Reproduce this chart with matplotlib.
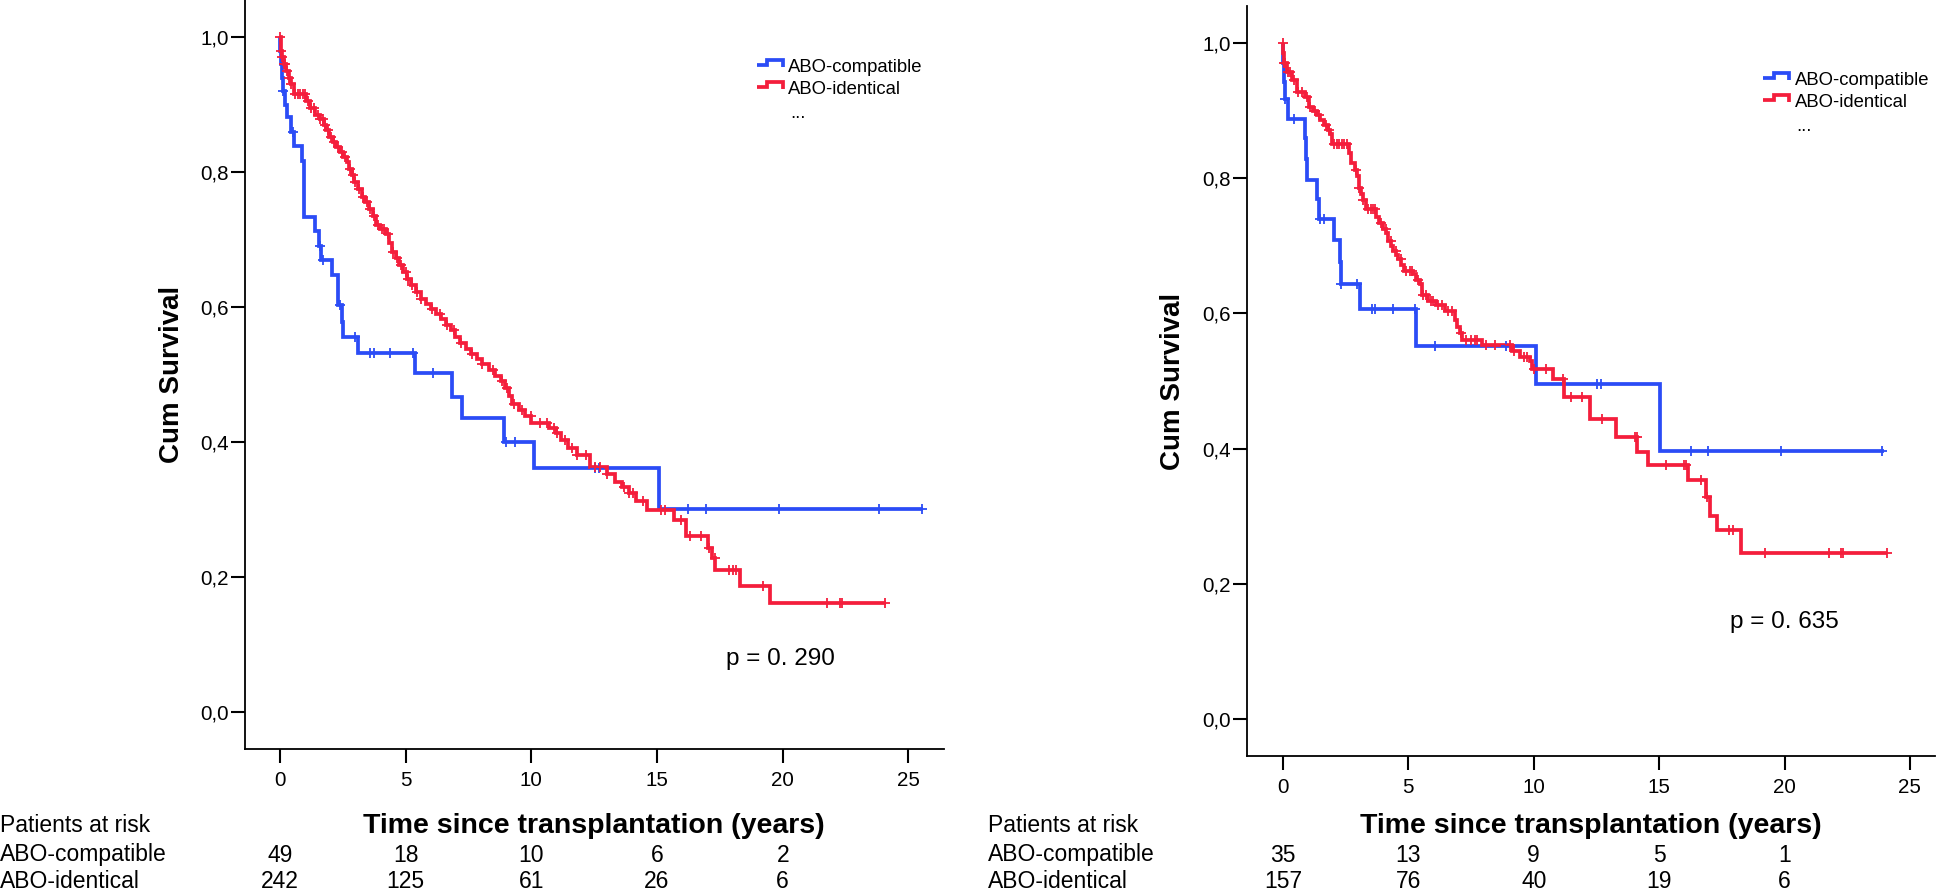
import numpy as np
import matplotlib
matplotlib.use('Agg')
import matplotlib.pyplot as plt
from matplotlib.lines import Line2D
from matplotlib.legend_handler import HandlerBase
from matplotlib.ticker import FuncFormatter
import matplotlib.transforms as mtransforms

plt.rcParams['font.family'] = ['Liberation Sans', 'DejaVu Sans']

COLOR_COMP = '#2B4CF6'
COLOR_IDENT = '#F41E3C'
group_labels = ['ABO-compatible', 'ABO-identical']

# ---------------- Left panel data ----------------
LC_t = [0, 0.02, 0.05, 0.08, 0.12, 0.20, 0.27, 0.45, 0.55, 0.86, 0.96, 1.39, 1.55, 1.65,
        2.06, 2.32, 2.46, 2.52, 3.12, 5.38, 6.84, 7.24, 8.90, 10.12, 15.06]
LC_s = [1.0, 0.98, 0.96, 0.94, 0.92, 0.90, 0.882, 0.860, 0.839, 0.816, 0.733, 0.713, 0.690, 0.670,
        0.647, 0.603, 0.578, 0.555, 0.532, 0.502, 0.467, 0.435, 0.400, 0.361, 0.300]
LC_cens = [0.13, 0.50, 1.60, 1.72, 2.39, 2.99, 3.59, 3.75, 4.38, 5.30, 6.09, 9.0, 9.36,
           12.53, 12.68, 16.24, 16.95, 19.86, 23.85, 25.56]
LC_end = 25.6

LI_t = [0, 0.03, 0.08, 0.15, 0.25, 0.35, 0.45, 0.55, 1.05, 1.2,
        1.4, 1.6, 1.75, 1.85, 1.97, 2.1, 2.23, 2.4, 2.5, 2.65,
        2.75, 2.85, 2.95, 3.1, 3.25, 3.4, 3.55, 3.7, 3.82, 4.0,
        4.2, 4.35, 4.45, 4.6, 4.75, 4.9, 5.05, 5.2, 5.4, 5.6,
        5.8, 6.0, 6.2, 6.4, 6.6, 6.8, 6.95, 7.15, 7.4, 7.6,
        7.85, 8.05, 8.3, 8.55, 8.8, 8.95, 9.1, 9.25, 9.5, 9.75,
        10.0, 10.7, 11.0, 11.2, 11.45, 11.8, 12.32, 13.03, 13.32, 13.6,
        13.89, 14.17, 14.6, 15.66, 16.16, 17.01, 17.18, 17.32, 18.3, 19.5]
LI_s = [1.0, 0.98, 0.97, 0.96, 0.95, 0.94, 0.93, 0.915, 0.905, 0.895,
        0.885, 0.878, 0.870, 0.862, 0.852, 0.845, 0.837, 0.830, 0.823, 0.815,
        0.805, 0.795, 0.785, 0.775, 0.763, 0.755, 0.746, 0.735, 0.722, 0.715,
        0.708, 0.695, 0.682, 0.672, 0.662, 0.652, 0.642, 0.632, 0.622, 0.612,
        0.604, 0.597, 0.590, 0.582, 0.574, 0.566, 0.556, 0.546, 0.538, 0.530,
        0.523, 0.515, 0.506, 0.498, 0.490, 0.480, 0.468, 0.457, 0.448, 0.438,
        0.428, 0.420, 0.413, 0.403, 0.391, 0.381, 0.363, 0.353, 0.341, 0.333,
        0.324, 0.312, 0.299, 0.284, 0.260, 0.243, 0.228, 0.211, 0.187, 0.161]
LI_cens = [0.0, 0.05, 0.1, 0.15, 0.2, 0.3, 0.35, 0.45, 0.6, 0.7, 0.8, 0.9, 1.0, 1.1, 1.25,
           1.35, 1.5, 1.6, 1.7, 1.8, 1.9, 2.05, 2.15, 2.3, 2.45, 2.6, 2.8, 2.9, 3.0, 3.15,
           3.3, 3.45, 3.6, 3.75, 3.9, 4.05, 4.15, 4.3, 4.5, 4.65, 4.8, 5.0, 5.1, 5.25, 5.45,
           5.63, 6.06, 6.35, 6.63, 6.92, 7.20, 7.63, 8.05, 8.48, 8.84, 9.05, 9.33, 9.62,
           9.98, 10.33, 10.61, 10.90, 11.04, 11.33, 11.61, 11.82, 12.18, 12.53, 12.75,
           13.03, 13.67, 13.89, 14.03, 14.46, 15.17, 15.31, 15.95, 16.31, 16.73, 17.05,
           17.3, 17.87, 18.01, 18.16, 19.22, 21.78, 22.28, 22.35, 24.06]
LI_end = 24.1

# ---------------- Right panel data ----------------
RC_t = [0, 0.02, 0.05, 0.08, 0.19, 0.89, 0.92, 0.95, 1.36, 1.45, 2.02, 2.28, 2.30, 3.06,
        5.32, 10.09, 15.04]
RC_s = [1.0, 0.971, 0.943, 0.917, 0.888, 0.859, 0.829, 0.798, 0.770, 0.740, 0.708, 0.676,
        0.644, 0.606, 0.552, 0.495, 0.396]
RC_cens = [0.10, 0.43, 1.5, 1.65, 2.32, 2.95, 3.55, 3.68, 4.41, 5.27, 6.07, 8.88, 12.51,
           12.69, 16.26, 16.95, 19.87, 23.89]
RC_end = 23.95

RI_t = [0, 0.01, 0.04, 0.15, 0.35, 0.55, 0.9, 1.05, 1.2, 1.36,
        1.5, 1.62, 1.78, 1.89, 1.96, 2.65, 2.72, 2.88, 2.95, 3.02,
        3.1, 3.18, 3.3, 3.72, 3.85, 4.01, 4.12, 4.21, 4.32, 4.41,
        4.52, 4.61, 4.72, 4.81, 5.2, 5.32, 5.45, 5.54, 5.8, 6.1,
        6.45, 6.88, 6.95, 7.05, 7.14, 7.93, 9.12, 9.46, 9.85, 9.95,
        10.78, 11.20, 12.24, 13.30, 14.11, 14.57, 16.16, 16.88, 17.02, 17.30,
        18.27]
RI_s = [1.0, 0.985, 0.970, 0.957, 0.945, 0.928, 0.920, 0.906, 0.900, 0.893,
        0.886, 0.879, 0.872, 0.866, 0.851, 0.837, 0.823, 0.813, 0.803, 0.786,
        0.777, 0.768, 0.754, 0.742, 0.734, 0.725, 0.719, 0.707, 0.700, 0.693,
        0.686, 0.680, 0.672, 0.663, 0.658, 0.650, 0.643, 0.628, 0.619, 0.612,
        0.603, 0.590, 0.580, 0.571, 0.561, 0.554, 0.545, 0.536, 0.530, 0.518,
        0.503, 0.476, 0.444, 0.417, 0.395, 0.375, 0.354, 0.329, 0.300, 0.280,
        0.245]
RI_cens = [0.0, 0.05, 0.1, 0.2, 0.3, 0.45, 0.6, 0.75, 0.95, 1.1, 1.3, 1.45, 1.7, 1.85, 2.05,
           2.15, 2.25, 2.35, 2.45, 2.55, 2.9, 3.05, 3.2, 3.4, 3.5, 3.6, 3.68, 3.9, 4.1, 4.3,
           4.5, 4.7, 4.9, 5.05, 5.15, 5.4, 5.6, 5.7, 5.9, 6.0, 6.2, 6.35, 6.6, 6.75, 7.1,
           7.3, 7.5, 7.65, 7.75, 8.1, 8.45, 9.07, 9.2, 9.6, 9.75, 10.0, 10.49, 11.17, 11.5,
           11.92, 12.72, 14.02, 14.1, 15.29, 15.98, 16.08, 16.68, 16.9, 17.78, 17.93, 19.22,
           21.77, 22.27, 22.32, 24.07]
RI_end = 24.07

# ---------------- Risk table ----------------
risk_times = [0, 5, 10, 15, 20]
L_risk_comp = [49, 18, 10, 6, 2]
L_risk_ident = [242, 125, 61, 26, 6]
R_risk_comp = [35, 13, 9, 5, 1]
R_risk_ident = [157, 76, 40, 19, 6]

p_left = 'p = 0. 290'
p_right = 'p = 0. 635'

x_ticks = [0, 5, 10, 15, 20, 25]
y_ticks = [0.0, 0.2, 0.4, 0.6, 0.8, 1.0]

# ---------------- Figure ----------------
W, H = 1946, 891
fig = plt.figure(figsize=(W / 100, H / 100), dpi=100)


def fx(px):
    return px / W


def fy(py):
    return 1 - py / H


ax1 = fig.add_axes([fx(245), fy(749), (943.6 - 245) / W, 749 / H])
ax2 = fig.add_axes([fx(1247), fy(756), (1935 - 1247) / W, (756 - 6) / H])

LW = 2.7


def km_plot(ax, t, s, cens, end, color):
    t = np.asarray(t, float)
    s = np.asarray(s, float)
    x = np.append(t, end)
    y = np.append(s, s[-1])
    ax.step(x, y, where='post', color=color, lw=LW, solid_joinstyle='miter',
            solid_capstyle='butt', zorder=3)
    c = np.asarray(cens, float)
    idx = np.searchsorted(t, c, side='right') - 1
    ax.plot(c, s[idx], ls='none', marker='+', ms=7.5, mew=1.3, color=color, zorder=4)


km_plot(ax1, LC_t, LC_s, LC_cens, LC_end, COLOR_COMP)
km_plot(ax1, LI_t, LI_s, LI_cens, LI_end, COLOR_IDENT)
km_plot(ax2, RC_t, RC_s, RC_cens, RC_end, COLOR_COMP)
km_plot(ax2, RI_t, RI_s, RI_cens, RI_end, COLOR_IDENT)

comma = FuncFormatter(lambda v, pos: ('%.1f' % v).replace('.', ','))

for ax, xl in ((ax1, (-1.39, 26.4)), (ax2, (-1.43, 26.0))):
    ax.set_xlim(*xl)
    ax.set_ylim(-0.055, 1.055)
    ax.set_xticks(x_ticks)
    ax.set_yticks(y_ticks)
    ax.yaxis.set_major_formatter(comma)
    for sp in ('top', 'right'):
        ax.spines[sp].set_visible(False)
    for sp in ('left', 'bottom'):
        ax.spines[sp].set_linewidth(1.3)
    ax.tick_params(axis='both', direction='out', length=10, width=1.5, labelsize=14.8,
                   color='black')
    ax.tick_params(axis='y', pad=1.5)
    ax.tick_params(axis='x', pad=6)
    ax.patch.set_alpha(0)


class StepHandler(HandlerBase):
    def create_artists(self, legend, orig_handle, xdescent, ydescent, width, height,
                       fontsize, trans):
        xs = np.array([0, 0.38, 0.38, 0.92, 0.92]) * width - xdescent
        ys = np.array([0.52, 0.52, 0.905, 0.905, 0.395]) * height - ydescent
        ln = Line2D(xs, ys, color=orig_handle.get_color(), lw=LW,
                    solid_joinstyle='miter', solid_capstyle='butt', transform=trans)
        return [ln]


handles = [Line2D([], [], color=COLOR_COMP, lw=LW), Line2D([], [], color=COLOR_IDENT, lw=LW)]
for ax, (lx, ly), (dx, dy) in ((ax1, (756.7, 59), (790, 118)), (ax2, (1763.3, 72), (1796.7, 131))):
    ax.legend(handles, group_labels, handler_map={Line2D: StepHandler()},
              loc='upper left', bbox_to_anchor=(fx(lx), fy(ly)), bbox_transform=fig.transFigure,
              frameon=False, borderpad=0, borderaxespad=0, handlelength=1.53,
              handletextpad=0.18, labelspacing=0.25, fontsize=13.3)
    fig.text(fx(dx), fy(dy), '...', fontsize=13.3, ha='left', va='baseline')

# p-values
ax1.text(19.9, 0.079, p_left, fontsize=17.5, ha='center', va='center')
ax2.text(19.98, 0.144, p_right, fontsize=17.5, ha='center', va='center')

# axis labels
fig.text(fx(172), fy(374.5), 'Cum Survival', rotation=90, fontsize=20, fontweight='bold',
         ha='center', va='center')
fig.text(fx(1173), fy(381), 'Cum Survival', rotation=90, fontsize=20, fontweight='bold',
         ha='center', va='center')
row_y = [fy(826), fy(855), fy(882)]
fig.text(fx((245 + 943.6) / 2), row_y[0], 'Time since transplantation (years)', fontsize=20.5,
         fontweight='bold', ha='center', va='center')
fig.text(fx((1247 + 1935) / 2), row_y[0], 'Time since transplantation (years)', fontsize=20.5,
         fontweight='bold', ha='center', va='center')

# risk tables
RFS = 16.5
for ax, x0, comp, ident in ((ax1, 0, L_risk_comp, L_risk_ident),
                            (ax2, 988, R_risk_comp, R_risk_ident)):
    fig.text(fx(x0), row_y[0], 'Patients at risk', fontsize=RFS, ha='left', va='center')
    fig.text(fx(x0), row_y[1], group_labels[0], fontsize=RFS, ha='left', va='center')
    fig.text(fx(x0), row_y[2], group_labels[1], fontsize=RFS, ha='left', va='center')
    tr = mtransforms.blended_transform_factory(ax.transData, fig.transFigure)
    for t, a, b in zip(risk_times, comp, ident):
        fig.text(t, row_y[1], str(a), fontsize=RFS, ha='center', va='center', transform=tr)
        fig.text(t, row_y[2], str(b), fontsize=RFS, ha='center', va='center', transform=tr)

fig.savefig('out.png', dpi=100)
